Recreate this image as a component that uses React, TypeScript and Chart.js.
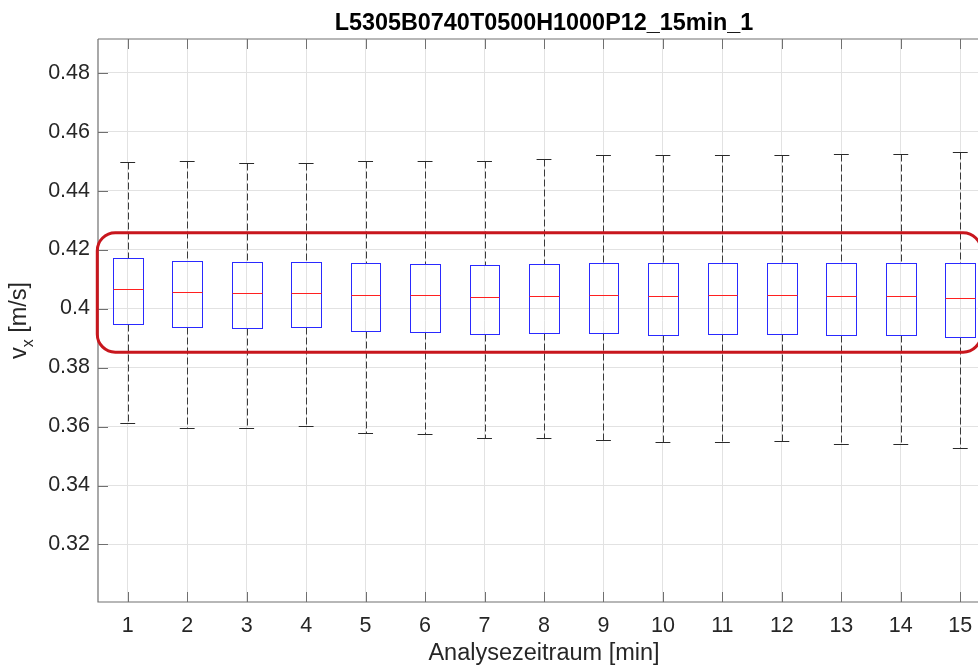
import React, { useEffect, useRef } from "react";
import { Chart, registerables } from "chart.js";

Chart.register(...registerables);

// ---- data ----
const categories = [1, 2, 3, 4, 5, 6, 7, 8, 9, 10, 11, 12, 13, 14, 15];
const upperWhisker = [0.4498, 0.4501, 0.4495, 0.4494, 0.4501, 0.4501, 0.4501, 0.4508, 0.452, 0.452, 0.452, 0.452, 0.4525, 0.4525, 0.453];
const q3 = [0.4172, 0.4162, 0.4158, 0.4159, 0.4154, 0.4152, 0.4149, 0.4152, 0.4155, 0.4154, 0.4155, 0.4155, 0.4155, 0.4155, 0.4153];
const medians = [0.4066, 0.4056, 0.4052, 0.4054, 0.4047, 0.4045, 0.4039, 0.4042, 0.4045, 0.4042, 0.4045, 0.4045, 0.4042, 0.4042, 0.4037];
const q1 = [0.3948, 0.3936, 0.3933, 0.3936, 0.3925, 0.392, 0.3913, 0.3916, 0.3916, 0.3912, 0.3913, 0.3913, 0.391, 0.391, 0.3902];
const lowerWhisker = [0.3613, 0.3595, 0.3595, 0.3601, 0.3577, 0.3573, 0.356, 0.356, 0.3554, 0.3546, 0.3548, 0.355, 0.354, 0.354, 0.3526];
const yTicks = [0.32, 0.34, 0.36, 0.38, 0.4, 0.42, 0.44, 0.46, 0.48];
const titleText = "L5305B0740T0500H1000P12_15min_1";
const xLabel = "Analysezeitraum [min]";
const yLabelMain = "v";
const yLabelSub = "x";
const yLabelUnit = " [m/s]";
// highlighted region (data coordinates)
const highlightX = [0.488, 15.35];
const highlightY = [0.3852, 0.4257];

const FONT = "'Liberation Sans', Arial, Helvetica, sans-serif";
const AXIS_COLOR = "#707070";
const TEXT_COLOR = "#262626";

const boxPlugin = {
  id: "boxes",
  afterDatasetsDraw(chart: any) {
    const { ctx, scales } = chart;
    const x = scales.x;
    const y = scales.y;
    const halfBox = 0.25;
    const halfCap = 0.125;
    ctx.save();
    categories.forEach((c, i) => {
      const xc = Math.round(x.getPixelForValue(c)) + 0.5;
      const xl = Math.round(x.getPixelForValue(c - halfBox)) + 0.5;
      const xr = Math.round(x.getPixelForValue(c + halfBox)) + 0.5;
      const cl = x.getPixelForValue(c - halfCap);
      const cr = x.getPixelForValue(c + halfCap);
      const yU = Math.round(y.getPixelForValue(upperWhisker[i])) + 0.5;
      const y3 = Math.round(y.getPixelForValue(q3[i])) + 0.5;
      const yM = Math.round(y.getPixelForValue(medians[i])) + 0.5;
      const y1 = Math.round(y.getPixelForValue(q1[i])) + 0.5;
      const yL = Math.round(y.getPixelForValue(lowerWhisker[i])) + 0.5;

      // whiskers
      ctx.lineWidth = 1;
      ctx.strokeStyle = "#3a3a3a";
      ctx.setLineDash([7, 3]);
      ctx.beginPath();
      ctx.moveTo(xc, yU);
      ctx.lineTo(xc, y3);
      ctx.stroke();
      ctx.beginPath();
      ctx.moveTo(xc, y1);
      ctx.lineTo(xc, yL);
      ctx.stroke();
      ctx.setLineDash([]);

      // caps
      ctx.strokeStyle = "#2a2a2a";
      ctx.beginPath();
      ctx.moveTo(cl, yU);
      ctx.lineTo(cr, yU);
      ctx.moveTo(cl, yL);
      ctx.lineTo(cr, yL);
      ctx.stroke();

      // box
      ctx.strokeStyle = "#2a2aff";
      ctx.strokeRect(xl, y3, xr - xl, y1 - y3);

      // median
      ctx.strokeStyle = "#ff2020";
      ctx.beginPath();
      ctx.moveTo(xl, yM);
      ctx.lineTo(xr, yM);
      ctx.stroke();
    });
    ctx.restore();
  },
};

const decorPlugin = {
  id: "decor",
  afterDraw(chart: any) {
    const { ctx, chartArea, scales } = chart;
    const x = scales.x;
    const y = scales.y;
    const { left, right, top, bottom } = chartArea;
    const tickLen = 10;
    ctx.save();

    // axes lines
    ctx.strokeStyle = AXIS_COLOR;
    ctx.lineWidth = 1.2;
    ctx.beginPath();
    ctx.moveTo(left, top);
    ctx.lineTo(left, bottom);
    ctx.lineTo(right, bottom);
    ctx.moveTo(left, top);
    ctx.lineTo(right, top);
    ctx.stroke();

    // inward ticks
    ctx.lineWidth = 1;
    ctx.beginPath();
    categories.forEach((c) => {
      const px = Math.round(x.getPixelForValue(c)) + 0.5;
      ctx.moveTo(px, bottom);
      ctx.lineTo(px, bottom - tickLen);
      ctx.moveTo(px, top);
      ctx.lineTo(px, top + tickLen);
    });
    yTicks.forEach((v) => {
      const py = Math.round(y.getPixelForValue(v)) + 0.5;
      ctx.moveTo(left, py);
      ctx.lineTo(left + tickLen, py);
    });
    ctx.stroke();

    // highlight rounded rectangle
    const hx0 = x.getPixelForValue(highlightX[0]);
    const hx1 = x.getPixelForValue(highlightX[1]);
    const hy0 = y.getPixelForValue(highlightY[1]);
    const hy1 = y.getPixelForValue(highlightY[0]);
    ctx.strokeStyle = "#c8161d";
    ctx.lineWidth = 3;
    ctx.beginPath();
    (ctx as any).roundRect(hx0, hy0, hx1 - hx0, hy1 - hy0, 18);
    ctx.stroke();

    // title
    const cx = (left + right) / 2;
    ctx.fillStyle = "#000000";
    ctx.font = `bold 23.4px ${FONT}`;
    ctx.textAlign = "center";
    ctx.textBaseline = "alphabetic";
    ctx.fillText(titleText, cx, 30);

    // x label
    ctx.fillStyle = TEXT_COLOR;
    ctx.font = `23.5px ${FONT}`;
    ctx.fillText(xLabel, cx, 660);

    // y label (rotated, with subscript)
    const cy = (top + bottom) / 2;
    ctx.save();
    ctx.translate(26, cy);
    ctx.rotate(-Math.PI / 2);
    ctx.textAlign = "left";
    const mainFont = `23.5px ${FONT}`;
    const subFont = `16px ${FONT}`;
    ctx.font = mainFont;
    const wMain = ctx.measureText(yLabelMain).width;
    const wUnit = ctx.measureText(yLabelUnit).width;
    ctx.font = subFont;
    const wSub = ctx.measureText(yLabelSub).width;
    const total = wMain + wSub + wUnit;
    let sx = -total / 2;
    ctx.font = mainFont;
    ctx.fillText(yLabelMain, sx, 0);
    sx += wMain;
    ctx.font = subFont;
    ctx.fillText(yLabelSub, sx, 7);
    sx += wSub;
    ctx.font = mainFont;
    ctx.fillText(yLabelUnit, sx, 0);
    ctx.restore();

    ctx.restore();
  },
};

export default function App() {
  const canvasRef = useRef<HTMLCanvasElement | null>(null);

  useEffect(() => {
    const canvas = canvasRef.current;
    if (!canvas) return;
    const chart = new Chart(canvas, {
      type: "scatter",
      data: {
        datasets: [
          {
            data: categories.map((c, i) => ({ x: c, y: medians[i] })),
            pointRadius: 0,
            showLine: false,
          },
        ],
      },
      options: {
        responsive: false,
        animation: false,
        devicePixelRatio: 1,
        layout: { padding: { top: 39, left: 0, right: 0, bottom: 0 } },
        plugins: {
          legend: { display: false },
          tooltip: { enabled: false },
          title: { display: false },
        },
        scales: {
          x: {
            type: "linear",
            min: 0.5,
            max: 15.5,
            afterBuildTicks: (s: any) => {
              s.ticks = categories.map((v) => ({ value: v }));
            },
            afterFit: (s: any) => {
              s.height = 65;
            },
            grid: { color: "#e2e2e2", lineWidth: 1, drawTicks: false },
            border: { display: false },
            ticks: {
              autoSkip: false,
              maxRotation: 0,
              padding: 11,
              color: TEXT_COLOR,
              font: { family: FONT, size: 21.5 },
              callback: (v: any) => String(v),
            },
          },
          y: {
            type: "linear",
            min: 0.3005,
            max: 0.4914,
            afterBuildTicks: (s: any) => {
              s.ticks = yTicks.map((v) => ({ value: v }));
            },
            afterFit: (s: any) => {
              s.width = 98;
            },
            grid: { color: "#e2e2e2", lineWidth: 1, drawTicks: false },
            border: { display: false },
            ticks: {
              padding: 8,
              color: TEXT_COLOR,
              font: { family: FONT, size: 21.5 },
              callback: (v: any) => String(Math.round(v * 100) / 100),
            },
          },
        },
      },
      plugins: [boxPlugin, decorPlugin],
    });
    return () => chart.destroy();
  }, []);

  return (
    <div
      style={{
        position: "fixed",
        left: 0,
        top: 0,
        width: 978,
        height: 667,
        overflow: "hidden",
        background: "#ffffff",
      }}
    >
      <canvas ref={canvasRef} width={990} height={667} style={{ display: "block" }} />
    </div>
  );
}
